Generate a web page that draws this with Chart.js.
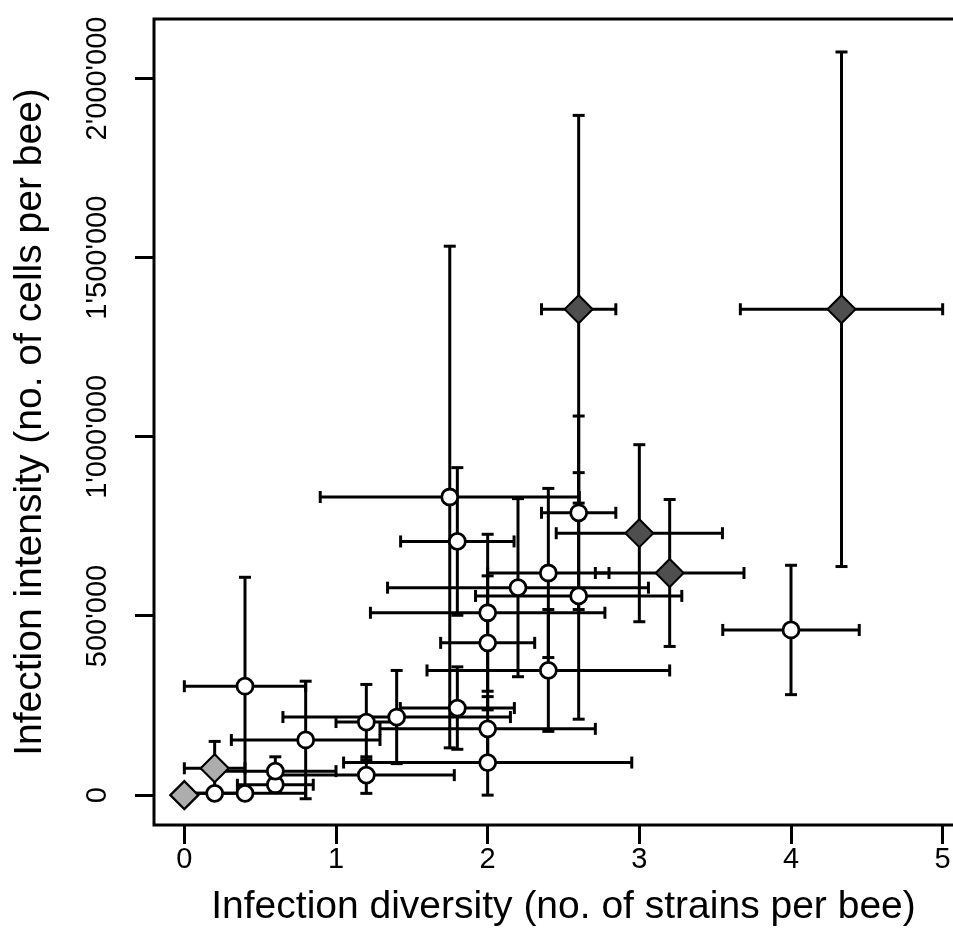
<!DOCTYPE html>
<html>
<head>
<meta charset="utf-8">
<script src="https://cdn.jsdelivr.net/npm/chart.js@4.4.0/dist/chart.umd.min.js"></script>
<style>
html, body { margin: 0; padding: 0; background: #fff; overflow: hidden; }
</style>
</head>
<body>
<canvas id="chart" width="981" height="952"></canvas>
<script>
// axis ticks
var xTicks = [0, 1, 2, 3, 4, 5];
var yTicks = [0, 500000, 1000000, 1500000, 2000000];
var yTickLabels = ["0", "500'000", "1'000'000", "1'500'000", "2'000'000"];

// open circles: mean, +/- error in x (strains) and y (cells)
var openX  = [0.2, 0.4, 0.4, 0.6, 0.6, 0.8, 1.2, 1.2, 1.4, 1.8, 1.75, 1.8, 2.0, 2.0, 2.0, 2.0, 2.2, 2.4, 2.4, 2.6, 2.6, 4.0];
var openY  = [5000, 5000, 304000, 29000, 67000, 154000, 204000, 56000, 218000, 243000, 832000, 708000, 509000, 425000, 185000, 91000, 579000, 620000, 348000, 788000, 556000, 461000];
var openXe = [0.2, 0.4, 0.4, 0.25, 0.4, 0.49, 0.2, 0.58, 0.75, 0.376, 0.854, 0.374, 0.773, 0.31, 0.71, 0.95, 0.86, 0.40, 0.80, 0.245, 0.68, 0.45];
var openYe = [5000, 5000, 304000, 20000, 40000, 164000, 105000, 51000, 130000, 115000, 700000, 206000, 219000, 187000, 90000, 91000, 248500, 236000, 170000, 270000, 344000, 180500];

// light grey diamonds
var lightX  = [0, 0.2];
var lightY  = [0, 75000];
var lightXe = [0, 0.2];
var lightYe = [0, 75000];

// dark grey diamonds
var darkX  = [2.6, 4.333, 3.0, 3.2];
var darkY  = [1356000, 1356000, 731000, 620000];
var darkXe = [0.245, 0.667, 0.548, 0.49];
var darkYe = [541000, 718000, 247000, 205000];

function points(xs, ys, xe, ye) {
    return xs.map(function (x, i) {
        return { x: x, y: ys[i], xe: xe[i], ye: ye[i] };
    });
}

var FONT = "'Liberation Sans', Arial, sans-serif";

// error bars under the points, box and y tick labels on top
var errorBars = {
    id: 'errorBars',
    beforeDatasetsDraw: function (chart) {
        var ctx = chart.ctx;
        var sx = chart.scales.x, sy = chart.scales.y;
        var cap = 6;
        ctx.save();
        ctx.strokeStyle = '#000';
        ctx.lineWidth = 3;
        function seg(x1, y1, x2, y2) {
            ctx.beginPath();
            ctx.moveTo(x1, y1);
            ctx.lineTo(x2, y2);
            ctx.stroke();
        }
        chart.data.datasets.forEach(function (ds) {
            ds.data.forEach(function (p) {
                var px = sx.getPixelForValue(p.x);
                var py = sy.getPixelForValue(p.y);
                if (p.xe > 0) {
                    var l = sx.getPixelForValue(p.x - p.xe);
                    var r = sx.getPixelForValue(p.x + p.xe);
                    seg(l, py, r, py);
                    seg(l, py - cap, l, py + cap);
                    seg(r, py - cap, r, py + cap);
                }
                if (p.ye > 0) {
                    var t = sy.getPixelForValue(p.y + p.ye);
                    var b = sy.getPixelForValue(p.y - p.ye);
                    seg(px, t, px, b);
                    seg(px - cap, t, px + cap, t);
                    seg(px - cap, b, px + cap, b);
                }
            });
        });
        ctx.restore();
    },
    afterDraw: function (chart) {
        var ctx = chart.ctx;
        var a = chart.chartArea;
        var sy = chart.scales.y;
        ctx.save();
        ctx.strokeStyle = '#000';
        ctx.lineWidth = 3;
        ctx.strokeRect(a.left, a.top, a.right - a.left, a.bottom - a.top);

        // y tick labels, turned like R's las=0
        ctx.fillStyle = '#000';
        ctx.font = '29px ' + FONT;
        ctx.textAlign = 'center';
        ctx.textBaseline = 'alphabetic';
        yTicks.forEach(function (v, i) {
            var py = sy.getPixelForValue(v);
            ctx.save();
            ctx.translate(106, py);
            ctx.rotate(-Math.PI / 2);
            ctx.fillText(yTickLabels[i], 0, 0);
            ctx.restore();
        });
        ctx.restore();
    }
};

var pointBase = {
    showLine: false,
    borderColor: '#000'
};

new Chart(document.getElementById('chart'), {
    type: 'scatter',
    data: {
        datasets: [
            Object.assign({}, pointBase, {
                label: 'dark',
                data: points(darkX, darkY, darkXe, darkYe),
                pointStyle: 'rectRot',
                pointRadius: 14,
                backgroundColor: '#4f4f4f',
                borderWidth: 2
            }),
            Object.assign({}, pointBase, {
                label: 'light',
                data: points(lightX, lightY, lightXe, lightYe),
                pointStyle: 'rectRot',
                pointRadius: 14,
                backgroundColor: '#adadad',
                borderWidth: 2.2
            }),
            Object.assign({}, pointBase, {
                label: 'open',
                data: points(openX, openY, openXe, openYe),
                pointStyle: 'circle',
                pointRadius: 8,
                backgroundColor: '#fff',
                borderWidth: 2.8
            })
        ]
    },
    options: {
        responsive: false,
        animation: false,
        layout: { autoPadding: false, padding: { left: 0, top: 19, right: 8, bottom: 0 } },
        plugins: {
            legend: { display: false },
            tooltip: { enabled: false }
        },
        scales: {
            x: {
                type: 'linear',
                position: 'bottom',
                min: -0.2,
                max: 5.2,
                afterBuildTicks: function (s) {
                    s.ticks = xTicks.map(function (v) { return { value: v }; });
                },
                afterFit: function (s) {
                    s.height = 127;
                    s.paddingLeft = 0;
                    s.paddingRight = 0;
                },
                border: { display: false },
                grid: {
                    drawOnChartArea: false,
                    drawTicks: true,
                    tickLength: 19,
                    tickWidth: 3,
                    tickColor: '#000'
                },
                ticks: {
                    color: '#000',
                    padding: -1,
                    maxRotation: 0,
                    font: { family: FONT, size: 29 }
                },
                title: {
                    display: true,
                    text: 'Infection diversity (no. of strains per bee)',
                    color: '#000',
                    font: { family: FONT, size: 39 },
                    padding: { top: 0, bottom: 21 }
                }
            },
            y: {
                type: 'linear',
                position: 'left',
                min: -83300,
                max: 2166000,
                afterBuildTicks: function (s) {
                    s.ticks = yTicks.map(function (v) { return { value: v }; });
                },
                afterFit: function (s) {
                    s.width = 154;
                    s.paddingTop = 0;
                    s.paddingBottom = 0;
                },
                border: { display: false },
                grid: {
                    drawOnChartArea: false,
                    drawTicks: true,
                    tickLength: 19,
                    tickWidth: 3,
                    tickColor: '#000'
                },
                ticks: { display: false },
                title: {
                    display: true,
                    text: 'Infection intensity (no. of cells per bee)',
                    color: '#000',
                    font: { family: FONT, size: 39 },
                    padding: { top: 7, bottom: 0 }
                }
            }
        }
    },
    plugins: [errorBars]
});
</script>
</body>
</html>
